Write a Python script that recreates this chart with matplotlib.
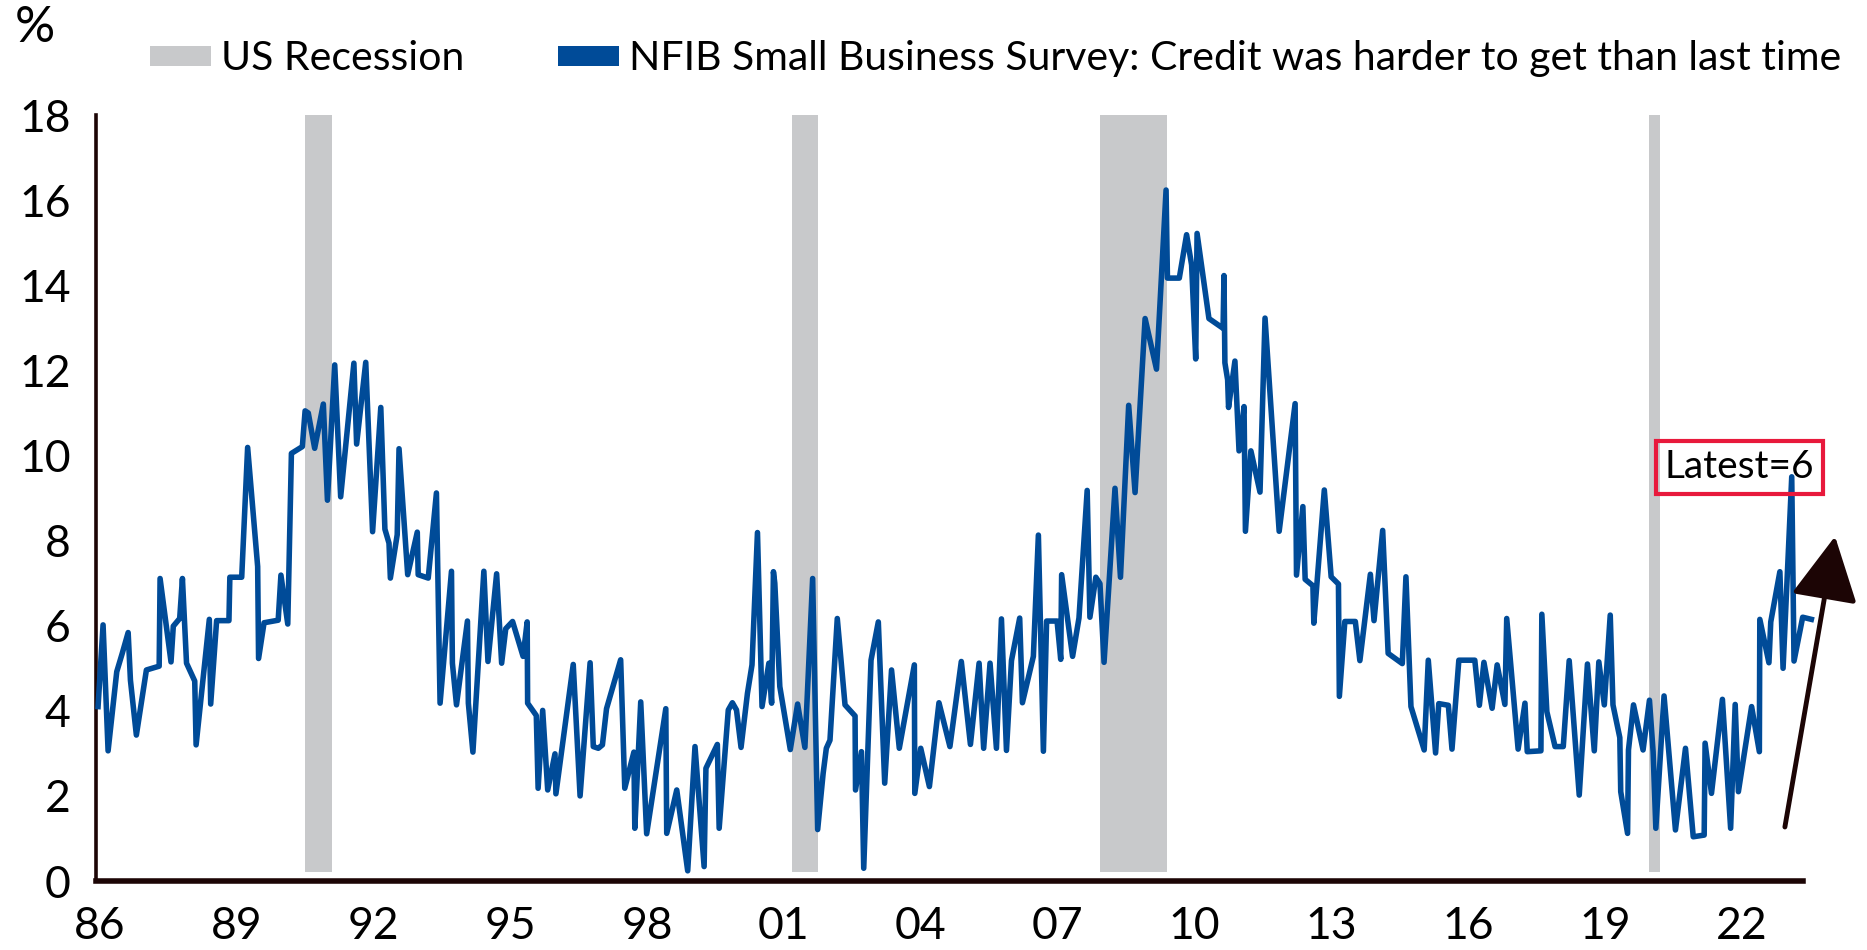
import matplotlib
matplotlib.use('Agg')
import matplotlib.pyplot as plt
from matplotlib.patches import Patch

plt.rcParams['font.family'] = ['Lato', 'DejaVu Sans']

# NFIB: % of owners saying credit was harder to get than last time
dates = [
    1985.96, 1986.07, 1986.18, 1986.37, 1986.49, 1986.62, 1986.67, 1986.80, 1987.02, 1987.30,
    1987.32, 1987.56, 1987.61, 1987.75, 1987.81, 1987.90, 1988.08, 1988.11, 1988.40, 1988.43,
    1988.56, 1988.83, 1988.85, 1989.11, 1989.24, 1989.46, 1989.48, 1989.60, 1989.91, 1989.97,
    1990.12, 1990.20, 1990.44, 1990.50, 1990.57, 1990.71, 1990.90, 1990.99, 1991.15, 1991.28,
    1991.57, 1991.63, 1991.83, 1991.98, 1992.16, 1992.25, 1992.34, 1992.37, 1992.52, 1992.56,
    1992.75, 1992.96, 1992.98, 1993.20, 1993.38, 1993.46, 1993.71, 1993.73, 1993.82, 1994.06,
    1994.08, 1994.18, 1994.42, 1994.51, 1994.70, 1994.81, 1994.90, 1995.05, 1995.28, 1995.37,
    1995.38, 1995.57, 1995.61, 1995.71, 1995.82, 1995.98, 1996.00, 1996.38, 1996.53, 1996.75,
    1996.82, 1996.93, 1997.02, 1997.11, 1997.42, 1997.51, 1997.71, 1997.73, 1997.86, 1997.99,
    1998.13, 1998.41, 1998.43, 1998.65, 1998.89, 1999.05, 1999.25, 1999.29, 1999.54, 1999.58,
    1999.78, 1999.87, 1999.96, 2000.06, 2000.20, 2000.30, 2000.42, 2000.52, 2000.67, 2000.73,
    2000.77, 2000.80, 2000.91, 2001.14, 2001.30, 2001.46, 2001.63, 2001.74, 2001.86, 2001.93,
    2002.01, 2002.17, 2002.34, 2002.56, 2002.57, 2002.70, 2002.75, 2002.91, 2003.07, 2003.21,
    2003.36, 2003.53, 2003.86, 2003.87, 2004.00, 2004.19, 2004.40, 2004.64, 2004.89, 2005.09,
    2005.28, 2005.38, 2005.52, 2005.66, 2005.77, 2005.88, 2005.99, 2006.17, 2006.23, 2006.47,
    2006.58, 2006.69, 2006.76, 2006.99, 2007.07, 2007.09, 2007.33, 2007.47, 2007.65, 2007.71,
    2007.84, 2007.93, 2008.02, 2008.26, 2008.38, 2008.56, 2008.70, 2008.92, 2009.17, 2009.38,
    2009.41, 2009.67, 2009.83, 2009.94, 2010.03, 2010.06, 2010.32, 2010.63, 2010.65, 2010.67,
    2010.73, 2010.75, 2010.89, 2010.98, 2011.09, 2011.12, 2011.24, 2011.44, 2011.55, 2011.86,
    2012.21, 2012.24, 2012.38, 2012.43, 2012.60, 2012.62, 2012.85, 2013.00, 2013.16, 2013.18,
    2013.30, 2013.53, 2013.63, 2013.86, 2013.94, 2014.13, 2014.25, 2014.56, 2014.64, 2014.75,
    2015.04, 2015.13, 2015.29, 2015.36, 2015.57, 2015.65, 2015.80, 2016.15, 2016.25, 2016.35,
    2016.53, 2016.64, 2016.81, 2016.85, 2017.10, 2017.25, 2017.30, 2017.60, 2017.62, 2017.73,
    2017.91, 2018.09, 2018.22, 2018.44, 2018.62, 2018.77, 2018.87, 2018.99, 2019.12, 2019.18,
    2019.33, 2019.35, 2019.50, 2019.52, 2019.63, 2019.84, 2019.98, 2020.06, 2020.12, 2020.30,
    2020.55, 2020.77, 2020.94, 2021.18, 2021.20, 2021.34, 2021.58, 2021.76, 2021.86, 2021.93,
    2022.22, 2022.39, 2022.40, 2022.60, 2022.64, 2022.84, 2022.91, 2023.10, 2023.15, 2023.34,
    2023.53,
]
credit_harder = [
    4.10, 6.02, 3.06, 4.92, 5.35, 5.84, 4.72, 3.43, 4.96, 5.05,
    7.11, 5.15, 5.99, 6.17, 7.11, 5.12, 4.70, 3.20, 6.15, 4.16,
    6.12, 6.12, 7.14, 7.14, 10.19, 7.39, 5.23, 6.07, 6.13, 7.19,
    6.04, 10.05, 10.21, 11.05, 11.00, 10.17, 11.21, 8.95, 12.13, 9.03,
    12.17, 10.27, 12.19, 8.21, 11.13, 8.27, 7.94, 7.12, 8.14, 10.16,
    7.20, 8.20, 7.20, 7.12, 9.12, 4.18, 7.28, 5.12, 4.14, 6.11,
    4.18, 3.03, 7.28, 5.16, 7.22, 5.12, 5.93, 6.10, 5.28, 6.09,
    4.18, 3.89, 2.18, 4.01, 2.14, 2.99, 2.05, 5.09, 2.00, 5.13,
    3.16, 3.12, 3.20, 4.05, 5.20, 2.18, 3.03, 1.24, 4.21, 1.11,
    2.09, 4.05, 1.12, 2.14, 0.24, 3.16, 0.34, 2.65, 3.21, 1.24,
    4.02, 4.19, 4.02, 3.14, 4.41, 5.08, 8.19, 4.10, 5.12, 4.18,
    7.27, 7.00, 4.57, 3.09, 4.16, 3.14, 7.11, 1.21, 2.53, 3.12,
    3.31, 6.17, 4.14, 3.88, 2.14, 3.04, 0.30, 5.19, 6.09, 2.30,
    4.96, 3.12, 5.08, 2.06, 3.12, 2.22, 4.19, 3.16, 5.16, 3.21,
    5.12, 3.12, 5.12, 3.12, 6.16, 3.07, 5.18, 6.18, 4.19, 5.28,
    8.13, 3.05, 6.11, 6.11, 5.21, 7.20, 5.28, 6.18, 9.18, 6.20,
    7.14, 6.99, 5.14, 9.23, 7.14, 11.18, 9.13, 13.22, 12.03, 16.24,
    14.17, 14.17, 15.19, 14.48, 12.27, 15.22, 13.22, 12.99, 14.23, 12.18,
    11.78, 11.13, 12.22, 10.11, 11.15, 8.22, 10.11, 9.14, 13.23, 8.22,
    11.22, 7.19, 8.80, 7.09, 6.94, 6.06, 9.19, 7.15, 6.98, 4.34,
    6.10, 6.10, 5.18, 7.21, 6.12, 8.24, 5.35, 5.11, 7.15, 4.10,
    3.08, 5.19, 3.01, 4.17, 4.13, 3.10, 5.19, 5.19, 4.13, 5.14,
    4.06, 5.08, 4.15, 6.17, 3.10, 4.18, 3.04, 3.06, 6.27, 3.98,
    3.16, 3.16, 5.18, 2.02, 5.10, 3.06, 5.15, 4.14, 6.25, 4.14,
    3.37, 2.10, 1.12, 3.08, 4.14, 3.08, 4.25, 3.04, 1.24, 4.35,
    1.20, 3.12, 1.04, 1.08, 3.24, 2.06, 4.27, 1.24, 4.15, 2.10,
    4.10, 3.04, 6.15, 5.13, 6.09, 7.27, 5.00, 9.50, 5.17, 6.20,
    6.15,
]

recession_start = [1990.50, 2001.18, 2007.93, 2019.98]
recession_end = [1991.08, 2001.75, 2009.39, 2020.21]

year_ticks = list(range(1986, 2023, 3))
year_labels = ['86', '89', '92', '95', '98', '01', '04', '07', '10', '13', '16', '19', '22']
latest = 6

blue = '#004b98'
grey = '#c8c9cb'
dark = '#1c0505'

fig = plt.figure(figsize=(18.67, 9.5), dpi=100)
ax = fig.add_axes([0.0513, 0.0726, 0.9206, 0.8062])

for s, e in zip(recession_start, recession_end):
    ax.axvspan(s, e, ymin=0.012, ymax=1, color=grey, lw=0, zorder=1)

ax.plot(dates, credit_harder, color=blue, lw=4, solid_joinstyle='round', zorder=3, clip_on=False)

ax.set_xlim(1985.91, 2023.6)
ax.set_ylim(0, 18)
ax.set_yticks(range(0, 19, 2))
ax.set_xticks(year_ticks)
ax.set_xticklabels(year_labels)
ax.tick_params(axis='both', length=0, labelsize=32, colors='black')
ax.tick_params(axis='y', pad=18)
ax.tick_params(axis='x', pad=18)

for side in ['top', 'right']:
    ax.spines[side].set_visible(False)
ax.spines['left'].set_color(dark)
ax.spines['left'].set_linewidth(2.6)
ax.spines['bottom'].set_color(dark)
ax.spines['bottom'].set_linewidth(4)
ax.spines['bottom'].set_bounds(1985.91, 2023.35)
ax.spines['bottom'].set_zorder(4)

# latest value box
ax.text(2021.95, 9.72, f'Latest={latest}', fontsize=28, ha='center', va='center', zorder=5,
        bbox=dict(boxstyle='square,pad=0.22', facecolor='none', edgecolor='#e8193c', lw=3),
        clip_on=False)

# upward arrow
ax.annotate('', xy=(2024.05, 8.1), xytext=(2022.95, 1.27), annotation_clip=False,
            arrowprops=dict(arrowstyle='-|>,head_length=0.5,head_width=0.26', color=dark,
                            lw=3.5, mutation_scale=80, shrinkA=0, shrinkB=0))

fig.text(0.008, 0.995, '%', fontsize=36, va='top', ha='left')

handles = [Patch(facecolor=grey, edgecolor='none'), Patch(facecolor=blue, edgecolor='none')]
labels = ['US Recession', 'NFIB Small Business Survey: Credit was harder to get than last time']
fig.legend(handles, labels, ncol=2, loc='center left', bbox_to_anchor=(0.0805, 0.938),
           frameon=False, fontsize=29.5, handlelength=1.48, handleheight=0.36,
           handletextpad=0.24, columnspacing=2.3, borderpad=0, borderaxespad=0)

plt.savefig('out.png', dpi=100)
